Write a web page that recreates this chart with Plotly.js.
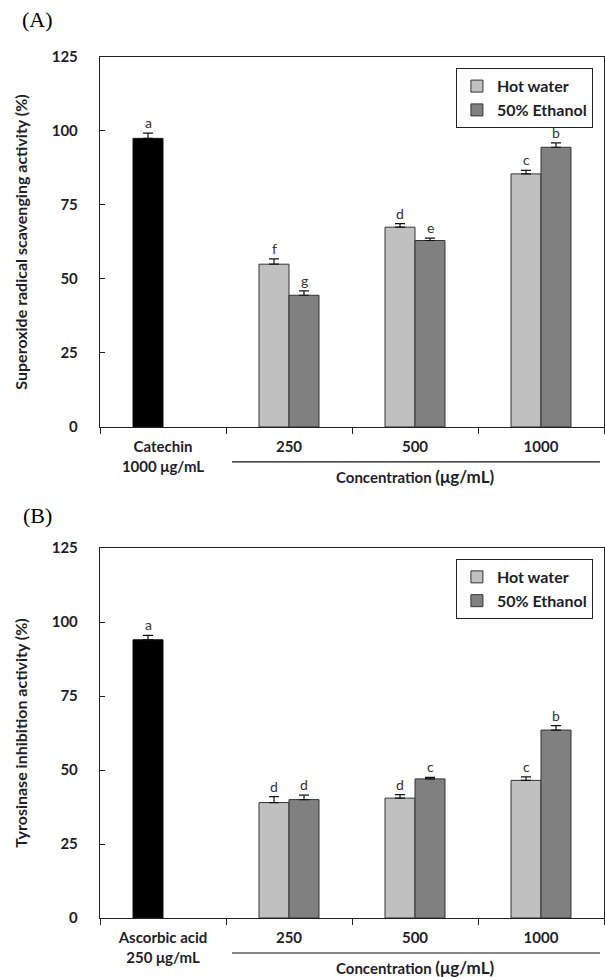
<!DOCTYPE html>
<html><head><meta charset="utf-8">
<script src="https://cdn.plot.ly/plotly-3.0.1.min.js"></script>
<style>body{margin:0;background:#fff}#c{width:605px;height:977px}</style>
</head><body><div id="c"></div>
<script>
// Panel A data
const categoriesA = ['Catechin<br>1000 μg/mL', '250', '500', '1000'];
const controlA = [97.5];
const controlErrA = [1.8];
const controlLetterA = ['a'];
const hotA = [55, 67.5, 85.5];
const hotErrA = [1.8, 1.2, 1.2];
const hotLettersA = ['f', 'd', 'c'];
const ethA = [44.5, 63, 94.5];
const ethErrA = [1.5, 0.8, 1.5];
const ethLettersA = ['g', 'e', 'b'];

// Panel B data
const categoriesB = ['Ascorbic acid<br>250 μg/mL', '250', '500', '1000'];
const controlB = [94];
const controlErrB = [1.5];
const controlLetterB = ['a'];
const hotB = [39, 40.5, 46.5];
const hotErrB = [2, 1.2, 1.2];
const hotLettersB = ['d', 'd', 'c'];
const ethB = [40, 47, 63.5];
const ethErrB = [1.5, 0.5, 1.5];
const ethLettersB = ['d', 'c', 'b'];

const seriesNames = ['Hot water', '50% Ethanol'];
const yTicks = [0, 25, 50, 75, 100, 125];

const FONT = 'Lato, "Open Sans", sans-serif';
const TXT = '#1e1e2a';

// non-numeric category keys (labels shown via ticktext)
const keys = categoriesA.map((c, i) => 'cat' + i);

function err(a){ return {type:'data', array:a, arrayminus:a.map(()=>0), symmetric:false, color:'#111', thickness:1.2, width:5}; }

function panel(ctrl, ctrlErr, hot, hotErr, eth, ethErr, xa, ya, leg){
  return [
    {type:'bar', x:[keys[0]], y:ctrl, error_y:err(ctrlErr), xaxis:xa, yaxis:ya, offsetgroup:'hw',
     marker:{color:'#000000', line:{color:'#111', width:1}}, showlegend:false, hoverinfo:'skip'},
    {type:'bar', name:seriesNames[0], x:keys.slice(1), y:hot, error_y:err(hotErr), xaxis:xa, yaxis:ya, offsetgroup:'hw',
     marker:{color:'#c0c0c0', line:{color:'#333', width:1}}, legend:leg},
    {type:'bar', name:seriesNames[1], x:keys.slice(1), y:eth, error_y:err(ethErr), xaxis:xa, yaxis:ya, offsetgroup:'et',
     marker:{color:'#808080', line:{color:'#333', width:1}}, legend:leg}
  ];
}

const data = [].concat(
  panel(controlA, controlErrA, hotA, hotErrA, ethA, ethErrA, 'x', 'y', 'legend'),
  panel(controlB, controlErrB, hotB, hotErrB, ethB, ethErrB, 'x2', 'y2', 'legend2')
);

function letters(ctrl, ctrlErr, ctrlL, hot, hotErr, hotL, eth, ethErr, ethL, xa, ya){
  const out = [];
  const mk = (i, y, t, sh) => ({x:i, y:y, text:t, xref:xa, yref:ya, showarrow:false, yanchor:'bottom', xshift:sh, yshift:0,
    font:{family:FONT, size:14, color:'#333'}});
  out.push(mk(0, ctrl[0]+ctrlErr[0], ctrlL[0], -15));
  for(let i=0;i<hot.length;i++){
    out.push(mk(i+1, hot[i]+hotErr[i], hotL[i], -15));
    out.push(mk(i+1, eth[i]+ethErr[i], ethL[i], 15));
  }
  return out;
}

const concText = 'Concentration <span style="font-size:17px">(μg/mL)</span>';
const annotations = [].concat(
  letters(controlA, controlErrA, controlLetterA, hotA, hotErrA, hotLettersA, ethA, ethErrA, ethLettersA, 'x', 'y'),
  letters(controlB, controlErrB, controlLetterB, hotB, hotErrB, hotLettersB, ethB, ethErrB, ethLettersB, 'x2', 'y2'),
  [
    {text:concText, xref:'x domain', yref:'y domain', x:0.625, y:-0.135, xanchor:'center', yanchor:'middle', showarrow:false,
     font:{family:FONT, size:15, color:TXT, weight:'bold'}},
    {text:concText, xref:'x2 domain', yref:'y2 domain', x:0.625, y:-0.135, xanchor:'center', yanchor:'middle', showarrow:false,
     font:{family:FONT, size:15, color:TXT, weight:'bold'}},
    {text:'(A)', xref:'paper', yref:'paper', x:-0.125, y:1.044, xanchor:'center', yanchor:'middle', showarrow:false,
     font:{family:'"Liberation Serif", serif', size:22, color:'#000'}},
    {text:'(B)', xref:'paper', yref:'paper', x:-0.125, y:0.4669, xanchor:'center', yanchor:'middle', showarrow:false,
     font:{family:'"Liberation Serif", serif', size:22, color:'#000'}}
  ]
);

const shapes = [
  {type:'line', xref:'x domain', yref:'y domain', x0:0.262, x1:0.992, y0:-0.0946, y1:-0.0946, line:{color:'#111', width:1.2}},
  {type:'line', xref:'x2 domain', yref:'y2 domain', x0:0.262, x1:0.992, y0:-0.0946, y1:-0.0946, line:{color:'#111', width:1.2}}
];

function xax(anchor, labels){
  return {anchor:anchor, domain:[0,1], type:'category', categoryorder:'array', categoryarray:keys,
    tickmode:'array', tickvals:keys, ticktext:labels, tickangle:0,
    tickson:'boundaries', ticks:'outside', ticklen:6, tickcolor:'#222', range:[-0.5, 3.5],
    showline:true, linecolor:'#222', linewidth:1.2, mirror:true, showgrid:false, zeroline:false, ticklabelstandoff:6,
    tickfont:{family:FONT, size:15, color:TXT, weight:'bold'}, fixedrange:true};
}
function yax(anchor, dom, title){
  return {anchor:anchor, domain:dom, range:[0,125], tickvals:yTicks, ticks:'inside', ticklen:5, tickcolor:'#222',
    showline:true, linecolor:'#222', linewidth:1.2, mirror:true, showgrid:false, zeroline:false, ticklabelstandoff:18,
    tickfont:{family:FONT, size:15, color:TXT, weight:'bold'},
    title:{text:title, standoff:20, font:{family:FONT, size:16, color:TXT, weight:'bold'}}, fixedrange:true};
}

const legendBase = {xanchor:'right', yanchor:'top', bgcolor:'#fff', bordercolor:'#222', borderwidth:1,
  font:{family:FONT, size:16, color:TXT, weight:'bold'}, tracegroupgap:0, itemwidth:30, traceorder:'normal'};

const layout = {
  width:605, height:977,
  margin:{l:100, r:1, t:57, b:59},
  paper_bgcolor:'#fff', plot_bgcolor:'#fff',
  barmode:'group', bargap:0.524, bargroupgap:0,
  showlegend:true,
  xaxis:xax('y', categoriesA),
  yaxis:yax('x', [0.5703, 1], 'Superoxide radical scavenging activity (%)'),
  xaxis2:xax('y2', categoriesB),
  yaxis2:yax('x2', [0, 0.4297], 'Tyrosinase inhibition activity (%)'),
  legend:Object.assign({}, legendBase, {x:0.978, y:0.987}),
  legend2:Object.assign({}, legendBase, {x:0.978, y:0.417}),
  annotations:annotations,
  shapes:shapes
};

Plotly.newPlot('c', data, layout, {displayModeBar:false, staticPlot:true});
</script>
</body></html>
